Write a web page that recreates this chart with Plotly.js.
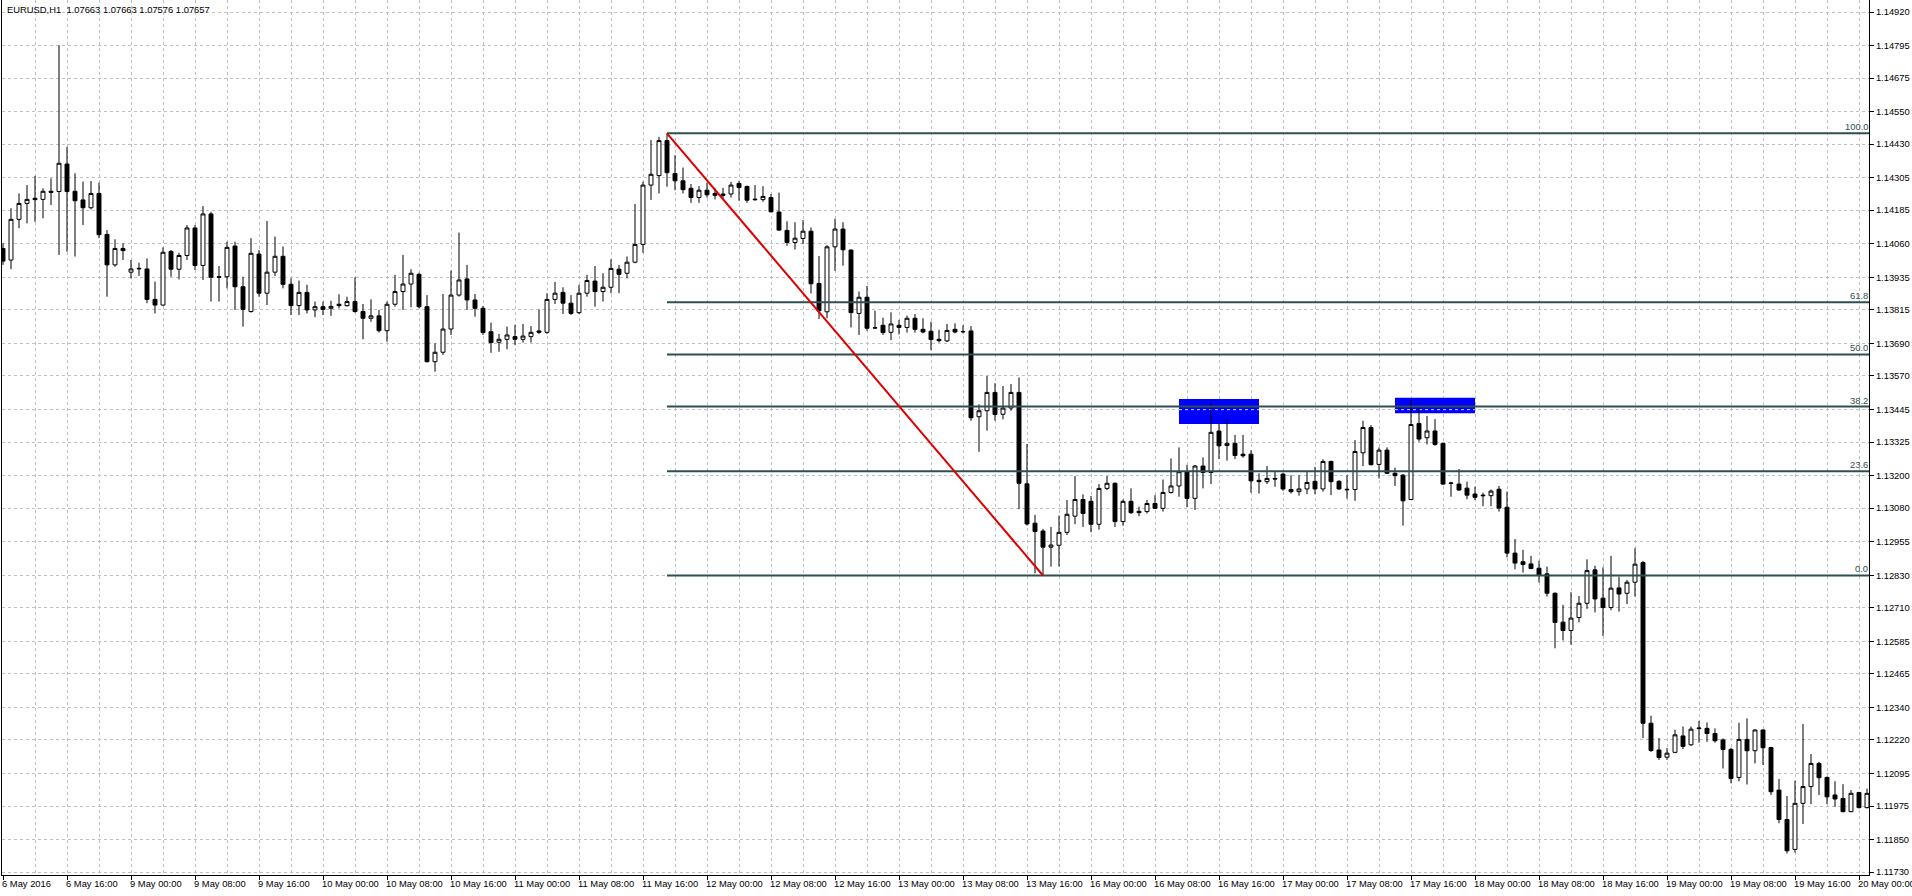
<!DOCTYPE html>
<html>
<head>
<meta charset="utf-8">
<script src="https://cdn.plot.ly/plotly-3.0.1.min.js"></script>
<style>
html,body{margin:0;padding:0;background:#fff;}
#chart{width:1912px;height:896px;}
</style>
</head>
<body>
<div id="chart"></div>
<script>
// ---- data (EURUSD H1, bar 0 = 6 May 2016 08:00) ----
const opens = [
1.14043,1.14000,1.14151,1.14210,1.14229,1.14225,1.14255,1.14254,1.14356,1.14255,
1.14223,1.14194,1.14247,1.14095,1.13982,1.14043,1.13955,1.13967,1.13967,1.13854,
1.13833,1.14032,1.13966,1.14017,1.14119,1.13980,1.14171,1.13936,1.13938,1.14052,
1.13901,1.13809,1.14022,1.13877,1.13955,1.14014,1.13910,1.13831,1.13880,1.13815,
1.13827,1.13821,1.13836,1.13831,1.13846,1.13809,1.13784,1.13793,1.13738,1.13836,
1.13883,1.13911,1.13947,1.13827,1.13623,1.13658,1.13744,1.13870,1.13930,1.13852,
1.13821,1.13734,1.13695,1.13706,1.13716,1.13706,1.13716,1.13737,1.13732,1.13854,
1.13880,1.13840,1.13805,1.13877,1.13922,1.13883,1.13899,1.13966,1.13951,1.13992,
1.14058,1.14278,1.14313,1.14443,1.14321,1.14294,1.14266,1.14232,1.14259,1.14247,
1.14245,1.14245,1.14284,1.14273,1.14226,1.14224,1.14232,1.14178,1.14110,1.14065,
1.14080,1.14107,1.13913,1.13808,1.14049,1.14115,1.14037,1.13802,1.13862,1.13749,
1.13758,1.13732,1.13758,1.13750,1.13784,1.13743,1.13736,1.13706,1.13700,1.13743,
1.13735,1.13737,1.13419,1.13441,1.13509,1.13428,1.13451,1.13509,1.13170,1.13024,
1.12995,1.12935,1.12942,1.12990,1.13050,1.13112,1.13105,1.13020,1.13153,1.13172,
1.13030,1.13105,1.13068,1.13067,1.13097,1.13079,1.13138,1.13162,1.13215,1.13116,
1.13236,1.13212,1.13366,1.13312,1.13320,1.13280,1.13280,1.13183,1.13178,1.13190,
1.13206,1.13149,1.13141,1.13151,1.13179,1.13151,1.13253,1.13179,1.13150,1.13149,
1.13285,1.13379,1.13242,1.13295,1.13209,1.13202,1.13112,1.13394,1.13341,1.13366,
1.13320,1.13173,1.13169,1.13154,1.13132,1.13128,1.13126,1.13150,1.13083,1.12913,
1.12881,1.12873,1.12857,1.12836,1.12764,1.12657,1.12626,1.12674,1.12727,1.12851,
1.12746,1.12711,1.12784,1.12764,1.12805,1.12878,1.12282,1.12183,1.12156,1.12174,
1.12235,1.12202,1.12262,1.12263,1.12244,1.12220,1.12185,1.12081,1.12222,1.12180,
1.12257,1.12192,1.12034,1.11925,1.11814,1.11985,1.12047,1.12133,1.12081,1.12016,
1.12003,1.11954,1.12025,1.11969
];
const highs = [
1.14062,1.14192,1.14247,1.14278,1.14312,1.14266,1.14303,1.14797,1.14420,1.14322,
1.14291,1.14293,1.14287,1.14111,1.14077,1.14062,1.14000,1.13990,1.14006,1.13920,
1.14047,1.14037,1.14027,1.14130,1.14130,1.14200,1.14179,1.13978,1.14068,1.14068,
1.13938,1.14081,1.14037,1.14145,1.14087,1.14050,1.13932,1.13924,1.13908,1.13846,
1.13846,1.13849,1.13873,1.13864,1.13936,1.13837,1.13854,1.13815,1.13846,1.13945,
1.14019,1.13966,1.13953,1.13870,1.13691,1.13874,1.13961,1.14102,1.13982,1.13874,
1.13830,1.13768,1.13726,1.13753,1.13759,1.13763,1.13755,1.13817,1.13877,1.13919,
1.13899,1.13870,1.13908,1.13945,1.13978,1.13951,1.14003,1.13982,1.14013,1.14208,
1.14291,1.14445,1.14457,1.14470,1.14389,1.14343,1.14282,1.14274,1.14287,1.14266,
1.14268,1.14290,1.14293,1.14276,1.14278,1.14274,1.14245,1.14250,1.14144,1.14140,
1.14148,1.14121,1.14015,1.14055,1.14153,1.14140,1.14039,1.13883,1.13904,1.13812,
1.13786,1.13806,1.13778,1.13794,1.13800,1.13784,1.13771,1.13741,1.13763,1.13765,
1.13758,1.13755,1.13465,1.13570,1.13543,1.13533,1.13540,1.13564,1.13318,1.13055,
1.13003,1.13010,1.13052,1.13110,1.13199,1.13131,1.13125,1.13169,1.13199,1.13175,
1.13112,1.13153,1.13085,1.13110,1.13128,1.13186,1.13264,1.13305,1.13240,1.13240,
1.13268,1.13471,1.13394,1.13410,1.13351,1.13351,1.13295,1.13209,1.13236,1.13215,
1.13211,1.13202,1.13202,1.13215,1.13233,1.13261,1.13256,1.13184,1.13202,1.13332,
1.13404,1.13388,1.13305,1.13305,1.13230,1.13206,1.13483,1.13456,1.13422,1.13410,
1.13322,1.13178,1.13225,1.13178,1.13159,1.13137,1.13149,1.13162,1.13141,1.12965,
1.12925,1.12903,1.12885,1.12863,1.12767,1.12721,1.12768,1.12754,1.12890,1.12866,
1.12860,1.12903,1.12826,1.12814,1.12931,1.12884,1.12310,1.12227,1.12190,1.12258,
1.12270,1.12270,1.12291,1.12285,1.12263,1.12226,1.12191,1.12284,1.12300,1.12259,
1.12259,1.12195,1.12075,1.12012,1.12069,1.12279,1.12168,1.12139,1.12084,1.12067,
1.12056,1.12034,1.12028,1.12040
];
const lows = [
1.13982,1.13966,1.14118,1.14136,1.14142,1.14155,1.14204,1.14019,1.14031,1.14013,
1.14130,1.14188,1.14081,1.13864,1.13975,1.14000,1.13932,1.13941,1.13840,1.13802,
1.13830,1.13938,1.13928,1.14000,1.13963,1.13926,1.13846,1.13846,1.13895,1.13815,
1.13753,1.13805,1.13864,1.13833,1.13941,1.13895,1.13796,1.13796,1.13802,1.13788,
1.13796,1.13793,1.13821,1.13827,1.13805,1.13706,1.13771,1.13731,1.13697,1.13827,
1.13815,1.13825,1.13821,1.13620,1.13586,1.13648,1.13722,1.13864,1.13815,1.13790,
1.13722,1.13656,1.13660,1.13669,1.13685,1.13694,1.13694,1.13726,1.13726,1.13837,
1.13800,1.13796,1.13800,1.13864,1.13827,1.13846,1.13877,1.13877,1.13932,1.13988,
1.14027,1.14223,1.14247,1.14272,1.14259,1.14247,1.14212,1.14212,1.14232,1.14225,
1.14229,1.14232,1.14220,1.14212,1.14220,1.14216,1.14177,1.14109,1.14053,1.14039,
1.14059,1.13876,1.13781,1.13784,1.13960,1.13979,1.13750,1.13722,1.13738,1.13745,
1.13722,1.13703,1.13724,1.13731,1.13731,1.13728,1.13666,1.13694,1.13696,1.13728,
1.13728,1.13404,1.13289,1.13367,1.13404,1.13409,1.13441,1.13076,1.13015,1.12838,
1.12830,1.12863,1.12863,1.12980,1.13020,1.13010,1.12990,1.13000,1.13147,1.13010,
1.13015,1.13058,1.13050,1.13060,1.13078,1.13067,1.13134,1.13122,1.13083,1.13073,
1.13153,1.13169,1.13262,1.13256,1.13262,1.13267,1.13137,1.13134,1.13169,1.13159,
1.13144,1.13134,1.13126,1.13132,1.13132,1.13141,1.13128,1.13147,1.13115,1.13107,
1.13236,1.13238,1.13190,1.13206,1.13162,1.13015,1.13110,1.13326,1.13316,1.13311,
1.13166,1.13122,1.13144,1.13113,1.13110,1.13087,1.13087,1.13067,1.12897,1.12853,
1.12841,1.12853,1.12804,1.12752,1.12560,1.12589,1.12573,1.12656,1.12706,1.12693,
1.12606,1.12701,1.12696,1.12724,1.12752,1.12227,1.12175,1.12146,1.12146,1.12171,
1.12186,1.12198,1.12210,1.12213,1.12210,1.12114,1.12059,1.12067,1.12055,1.12133,
1.12127,1.12016,1.11911,1.11799,1.11802,1.11908,1.11982,1.12016,1.11982,1.11972,
1.11952,1.11952,1.11966,1.11966
];
const closes = [
1.13996,1.14151,1.14210,1.14225,1.14224,1.14255,1.14251,1.14359,1.14254,1.14220,
1.14194,1.14247,1.14094,1.13982,1.14043,1.14035,1.13967,1.13969,1.13854,1.13833,
1.14029,1.13966,1.14017,1.14119,1.13980,1.14171,1.13936,1.13938,1.14047,1.13901,
1.13817,1.14025,1.13877,1.13955,1.14014,1.13910,1.13831,1.13880,1.13815,1.13827,
1.13817,1.13828,1.13831,1.13846,1.13809,1.13784,1.13793,1.13738,1.13836,1.13883,
1.13911,1.13951,1.13827,1.13623,1.13658,1.13744,1.13870,1.13926,1.13852,1.13821,
1.13731,1.13694,1.13706,1.13722,1.13706,1.13718,1.13732,1.13732,1.13854,1.13877,
1.13840,1.13802,1.13877,1.13924,1.13883,1.13899,1.13969,1.13947,1.13992,1.14058,
1.14278,1.14318,1.14443,1.14324,1.14294,1.14261,1.14232,1.14259,1.14242,1.14240,
1.14240,1.14278,1.14269,1.14222,1.14224,1.14236,1.14179,1.14111,1.14065,1.14081,
1.14107,1.13912,1.13812,1.14049,1.14115,1.14038,1.13805,1.13862,1.13747,1.13748,
1.13731,1.13763,1.13750,1.13784,1.13743,1.13733,1.13705,1.13701,1.13739,1.13733,
1.13734,1.13415,1.13441,1.13509,1.13427,1.13451,1.13509,1.13172,1.13021,1.12993,
1.12935,1.12943,1.12990,1.13057,1.13112,1.13060,1.13020,1.13153,1.13172,1.13030,
1.13105,1.13063,1.13063,1.13097,1.13079,1.13138,1.13162,1.13215,1.13116,1.13236,
1.13212,1.13361,1.13311,1.13320,1.13275,1.13274,1.13181,1.13178,1.13190,1.13188,
1.13151,1.13141,1.13151,1.13175,1.13151,1.13253,1.13178,1.13151,1.13148,1.13290,
1.13379,1.13241,1.13295,1.13209,1.13200,1.13107,1.13390,1.13336,1.13366,1.13316,
1.13169,1.13172,1.13147,1.13128,1.13120,1.13126,1.13143,1.13080,1.12913,1.12876,
1.12871,1.12856,1.12832,1.12764,1.12656,1.12626,1.12672,1.12727,1.12848,1.12743,
1.12711,1.12783,1.12761,1.12805,1.12872,1.12282,1.12181,1.12155,1.12171,1.12239,
1.12196,1.12260,1.12264,1.12244,1.12217,1.12185,1.12077,1.12222,1.12180,1.12257,
1.12191,1.12028,1.11925,1.11809,1.11985,1.12047,1.12133,1.12080,1.12009,1.12001,
1.11954,1.12022,1.11969,1.12022
];
const xLabels = ['6 May 2016','6 May 16:00','9 May 00:00','9 May 08:00','9 May 16:00',
 '10 May 00:00','10 May 08:00','10 May 16:00','11 May 00:00','11 May 08:00','11 May 16:00',
 '12 May 00:00','12 May 08:00','12 May 16:00','13 May 00:00','13 May 08:00','13 May 16:00',
 '16 May 00:00','16 May 08:00','16 May 16:00','17 May 00:00','17 May 08:00','17 May 16:00',
 '18 May 00:00','18 May 08:00','18 May 16:00','19 May 00:00','19 May 08:00','19 May 16:00',
 '20 May 00:00'];
const barsPerLabel = 8;
const yTickLabels = ['1.14920','1.14795','1.14675','1.14550','1.14430','1.14305','1.14185',
 '1.14060','1.13935','1.13815','1.13690','1.13570','1.13445','1.13325','1.13200','1.13080',
 '1.12955','1.12830','1.12710','1.12585','1.12465','1.12340','1.12220','1.12095','1.11975',
 '1.11850','1.11730'];
const headerText = 'EURUSD,H1  1.07663 1.07663 1.07576 1.07657';
// Fibonacci retracement: from the swing high bar to the swing low bar
const fibHighBar = 83;
const fibLowBar = 130;
const fibLevels = [0, 23.6, 38.2, 50, 61.8, 100];
// rectangles: [startBar, endBar] and [lowPrice, highPrice]
const rectBars = [[147, 157], [174, 184]];
const rectPrices = [[1.13392, 1.13485], [1.13432, 1.13489]];
const rectGridPrice = 1.13445;

// ---- build ----
const xIdx = opens.map((_, i) => i);
const xRange = [-0.125, 233.25];
const yRange = [1.117191, 1.149645];
const FONT = '"Liberation Sans", Arial, sans-serif';
const FS = 9.4;
const gridColor = '#c0c0c0';
const fibColor = '#2f4f4f';

const trace = {
  type: 'candlestick',
  x: xIdx, open: opens, high: highs, low: lows, close: closes,
  increasing: {line: {color: '#000', width: 1}, fillcolor: '#ffffff'},
  decreasing: {line: {color: '#000', width: 1}, fillcolor: '#000000'},
  whiskerwidth: 0,
  hoverinfo: 'skip',
  showlegend: false
};

const fibHigh = highs[fibHighBar];
const fibLow = lows[fibLowBar];
const shapes = [];
const annotations = [];

rectBars.forEach((rb, k) => {
  shapes.push({type: 'rect', xref: 'x', yref: 'y', x0: rb[0], x1: rb[1],
    y0: rectPrices[k][0], y1: rectPrices[k][1], fillcolor: '#0000ff',
    line: {width: 0}, layer: 'between'});
  shapes.push({type: 'line', xref: 'x', yref: 'y', x0: rb[0], x1: rb[1],
    y0: rectGridPrice, y1: rectGridPrice, line: {color: '#d8d8ff', width: 1, dash: '3px,3px'},
    layer: 'between'});
});

fibLevels.forEach(lv => {
  const p = fibLow + (fibHigh - fibLow) * lv / 100;
  shapes.push({type: 'line', xref: 'x', yref: 'y', x0: fibHighBar, x1: xRange[1],
    y0: p, y1: p, line: {color: fibColor, width: 2}, layer: 'above'});
  annotations.push({xref: 'x', yref: 'y', x: xRange[1] - 0.05, y: p, xanchor: 'right', yanchor: 'bottom',
    text: lv.toFixed(1), showarrow: false, font: {family: FONT, size: FS, color: fibColor},
    borderpad: 0, yshift: 0});
});

shapes.push({type: 'line', xref: 'x', yref: 'y', x0: fibHighBar, y0: fibHigh, x1: fibLowBar, y1: fibLow,
  line: {color: '#dd0000', width: 2}, layer: 'above'});

xLabels.forEach((t, k) => {
  annotations.push({xref: 'x', yref: 'paper', x: k * barsPerLabel, y: 0, xanchor: 'left', yanchor: 'top',
    text: t, showarrow: false, font: {family: FONT, size: FS, color: '#000'}, borderpad: 0, yshift: -2, xshift: -2});
});

annotations.push({xref: 'paper', yref: 'paper', x: 0, y: 1, xanchor: 'left', yanchor: 'top',
  text: headerText, showarrow: false, font: {family: FONT, size: FS, color: '#000'},
  borderpad: 0, xshift: 4, yshift: -3});

const majorX = xLabels.map((_, k) => k * barsPerLabel);

const layout = {
  width: 1912, height: 896,
  margin: {l: 2, r: 43, t: 0, b: 21, pad: 0},
  paper_bgcolor: '#ffffff', plot_bgcolor: '#ffffff',
  showlegend: false,
  xaxis: {
    type: 'linear', range: xRange, fixedrange: true,
    rangeslider: {visible: false},
    tickmode: 'array', tickvals: majorX, showticklabels: false,
    ticks: 'outside', ticklen: 4, tickcolor: '#000', tickwidth: 1,
    showgrid: true, gridcolor: gridColor, griddash: '3px,3px', gridwidth: 1,
    minor: {tick0: 4, dtick: 8, showgrid: true, gridcolor: gridColor, griddash: '3px,3px', ticks: ''},
    showline: true, linecolor: '#000', linewidth: 1, zeroline: false
  },
  yaxis: {
    side: 'right', range: yRange, fixedrange: true,
    tickmode: 'array', tickvals: yTickLabels.map(Number), ticktext: yTickLabels,
    ticks: 'outside', ticklen: 4, tickcolor: '#000', tickwidth: 1,
    tickfont: {family: FONT, size: FS, color: '#000'},
    showgrid: true, gridcolor: gridColor, griddash: '3px,3px', gridwidth: 1,
    showline: true, linecolor: '#000', linewidth: 1, mirror: true, zeroline: false
  },
  shapes: shapes,
  annotations: annotations
};

Plotly.newPlot('chart', [trace], layout, {staticPlot: true, displayModeBar: false});
</script>
</body>
</html>
